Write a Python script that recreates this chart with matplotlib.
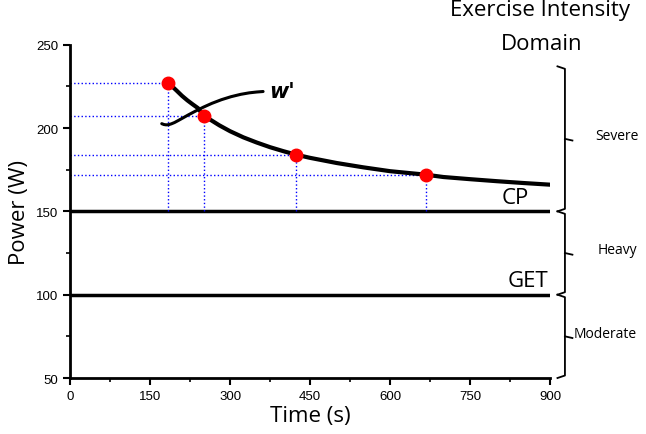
import matplotlib.pyplot as plt
from matplotlib.ticker import MultipleLocator

# measured points (time s, power W)
pt_time = [184, 251, 424, 667]
pt_power = [227, 207, 184, 172]

# power-duration curve
curve_t = [184, 192, 200, 210, 220, 230, 240, 251, 265, 280, 300, 325, 350, 375, 400, 424,
           450, 500, 550, 600, 667, 700, 750, 800, 850, 900]
curve_p = [227, 224.8, 222.4, 219.3, 216.6, 214.2, 211.9, 207, 204.6, 201.6, 198.1, 194.4,
           191.3, 188.5, 186.1, 184, 182.1, 179, 176.4, 174.1, 172, 170.6, 169.3, 168.1,
           167, 166]

# W' arc
w_t = [172, 176, 180, 185, 190, 196, 203, 212, 222, 235, 250, 266, 284, 302, 320, 336, 350, 362]
w_p = [202.6, 202.1, 201.9, 202, 202.5, 203.3, 204.5, 206.1, 207.9, 210.1, 212.5, 214.8,
       217, 218.8, 220.2, 221.1, 221.6, 221.9]

cp = 150
get = 100

# domains: (label, low, high)
domains = [("Severe", 150, 237), ("Heavy", 100, 150), ("Moderate", 50, 100)]

label_font = "Open Sans"
tick_font = "Liberation Sans"

fig = plt.figure(figsize=(6.46, 4.35), dpi=100)
ax = fig.add_axes([0.1084, 0.1287, 0.743, 0.7663])

ax.plot([0, 900], [cp, cp], color="black", lw=2.5, solid_capstyle="butt")
ax.plot([0, 900], [get, get], color="black", lw=2.5, solid_capstyle="butt")

for t, p in zip(pt_time, pt_power):
    ax.plot([0, t], [p, p], color="blue", ls=":", lw=1)
    ax.plot([t, t], [cp, p], color="blue", ls=":", lw=1)

ax.plot(curve_t, curve_p, color="black", lw=3, solid_capstyle="round", solid_joinstyle="round")
ax.plot(w_t, w_p, color="black", lw=2.2, solid_capstyle="round", solid_joinstyle="round")
ax.plot(pt_time, pt_power, "o", color="red", ms=9, zorder=5)

ax.text(373, 222, "w'", fontsize=15, fontweight="bold", style="italic",
        family="DejaVu Sans", va="center", ha="left")
ax.text(860, 152, "CP", fontsize=16, family=label_font, ha="right", va="bottom")
ax.text(897, 102, "GET", fontsize=16, family=label_font, ha="right", va="bottom")

# braces on the right
bx = 928
hook = 14
for name, lo, hi in domains:
    mid = (lo + hi) / 2
    ax.plot([bx - hook, bx, bx, bx - hook], [hi, hi - 1.5, lo + 1.5, lo],
            color="black", lw=1.3, clip_on=False)
    ax.plot([bx, bx + hook], [mid, mid - 1], color="black", lw=1.3, clip_on=False)
lx = {"Severe": 985, "Heavy": 990, "Moderate": 944}
for name, lo, hi in domains:
    mid = (lo + hi) / 2
    ax.text(lx[name], mid + 2, name, fontsize=10, family=label_font,
            ha="left", va="center", clip_on=False)

fig.text(0.836, 0.975, "Exercise Intensity", fontsize=16, family=label_font,
         ha="center", va="center")
fig.text(0.838, 0.898, "Domain", fontsize=16, family=label_font,
         ha="center", va="center")

ax.set_xlim(0, 900)
ax.set_ylim(50, 250)
ax.xaxis.set_major_locator(MultipleLocator(150))
ax.xaxis.set_minor_locator(MultipleLocator(75))
ax.yaxis.set_major_locator(MultipleLocator(50))
ax.yaxis.set_minor_locator(MultipleLocator(25))
ax.tick_params(which="major", direction="out", length=5, width=1.5)
ax.tick_params(which="minor", direction="out", length=3, width=1.2)
for lab in ax.get_xticklabels() + ax.get_yticklabels():
    lab.set_family(tick_font)
    lab.set_fontsize(9.5)

for s in ["top", "right"]:
    ax.spines[s].set_visible(False)
for s in ["left", "bottom"]:
    ax.spines[s].set_linewidth(2)

ax.set_xlabel("Time (s)", fontsize=16, family=label_font, labelpad=2)
ax.set_ylabel("Power (W)", fontsize=16, family=label_font, labelpad=4)

fig.savefig("out.png", dpi=100)
